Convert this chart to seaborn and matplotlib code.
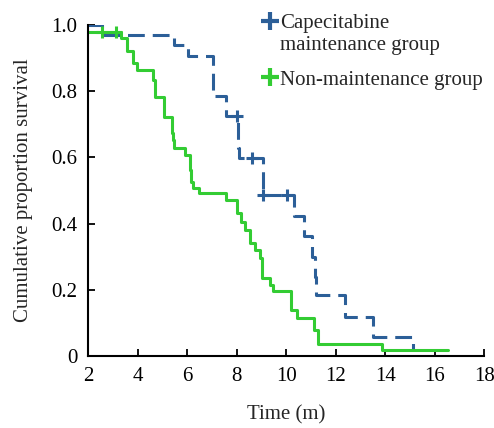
import numpy as np
import pandas as pd
import seaborn as sns
import matplotlib.pyplot as plt
from matplotlib.lines import Line2D
from matplotlib.ticker import FuncFormatter

# Kaplan-Meier steps
cape_time = [2.0, 2.55, 5.45, 6.02, 7.04, 7.55, 8.05, 8.1, 9.05, 10.32, 10.73,
             11.03, 11.15, 11.22, 12.37, 13.52, 15.12]
cape_surv = [1.0, 0.97, 0.94, 0.906, 0.785, 0.725, 0.627, 0.597, 0.486, 0.424,
             0.364, 0.30, 0.24, 0.184, 0.119, 0.058, 0.02]
cape_cens_t = [8.0, 8.62, 9.05, 10.03]
cape_cens_s = [0.725, 0.597, 0.486, 0.486]

non_time = [2.0, 3.3, 3.55, 3.82, 3.95, 4.63, 4.68, 5.04, 5.36, 5.42, 5.48, 5.92,
            6.09, 6.16, 6.23, 6.48, 7.58, 8.01, 8.17, 8.35, 8.55, 8.75, 8.93,
            9.02, 9.36, 9.47, 10.2, 10.44, 11.11, 11.29, 13.88, 16.52]
non_surv = [0.978, 0.96, 0.92, 0.884, 0.864, 0.834, 0.783, 0.723, 0.673, 0.653,
            0.627, 0.607, 0.562, 0.527, 0.506, 0.491, 0.471, 0.431, 0.405, 0.381,
            0.34, 0.32, 0.295, 0.235, 0.215, 0.197, 0.139, 0.114, 0.079, 0.038,
            0.018, 0.018]
non_cens_t = [2.55, 3.12]
non_cens_s = [0.978, 0.978]

x_ticks = [2, 4, 6, 8, 10, 12, 14, 16, 18]
y_ticks = [0, 0.2, 0.4, 0.6, 0.8, 1.0]

blue = '#2c5f98'
green = '#33cc33'
fs = 15

sns.set_theme(style='ticks')
plt.rcParams['font.family'] = ['Liberation Serif', 'DejaVu Serif']
plt.rcParams['font.size'] = fs

fig = plt.figure(figsize=(4.94, 4.28), dpi=100)
ax = fig.add_axes([0.179, 0.168, 0.801, 0.774])

sns.lineplot(x=cape_time, y=cape_surv, ax=ax, color=blue, linewidth=2.2,
             drawstyle='steps-post', linestyle=(0, (5.5, 2.6)), errorbar=None)
sns.lineplot(x=non_time, y=non_surv, ax=ax, color=green, linewidth=2.2,
             drawstyle='steps-post', errorbar=None)
ax.plot(cape_cens_t, cape_cens_s, linestyle='none', marker='+', ms=8, mew=2.2, color=blue)
ax.plot(non_cens_t, non_cens_s, linestyle='none', marker='+', ms=8, mew=2.2, color=green)

ax.set_xlim(2, 18)
ax.set_ylim(0, 1.0)
ax.set_xticks(x_ticks)
ax.set_yticks(y_ticks)
ax.yaxis.set_major_formatter(FuncFormatter(lambda v, p: '0' if v == 0 else f'{v:.1f}'))
ax.tick_params(direction='in', length=5, width=1.3, colors='black', labelsize=fs, pad=8)
for s in ['top', 'right']:
    ax.spines[s].set_visible(False)
for s in ['left', 'bottom']:
    ax.spines[s].set_linewidth(1.5)
    ax.spines[s].set_color('black')

ax.set_xlabel('Time (m)', fontsize=fs, labelpad=14)
ax.set_ylabel('Cumulative proportion survival', fontsize=fs, labelpad=13)

# legend: blue handle sits on the first line of its two-line label
h_blue = Line2D([], [], linestyle='none', marker='+', ms=13, mew=3, color=blue)
h_none = Line2D([], [], linestyle='none', marker=None, color='none')
h_green = Line2D([], [], linestyle='none', marker='+', ms=13, mew=3, color=green)
fig.legend([h_blue, h_none], ['Capecitabine', 'maintenance group'],
           loc='upper left', bbox_to_anchor=(0.504, 1.0), frameon=False,
           handlelength=0.7, handletextpad=0.15, labelspacing=0.12,
           fontsize=fs, borderpad=0.15)
fig.legend([h_green], ['Non-maintenance group'],
           loc='upper left', bbox_to_anchor=(0.504, 0.868), frameon=False,
           handlelength=0.7, handletextpad=0.15, fontsize=fs, borderpad=0.15)

fig.savefig('out.png', dpi=100)
